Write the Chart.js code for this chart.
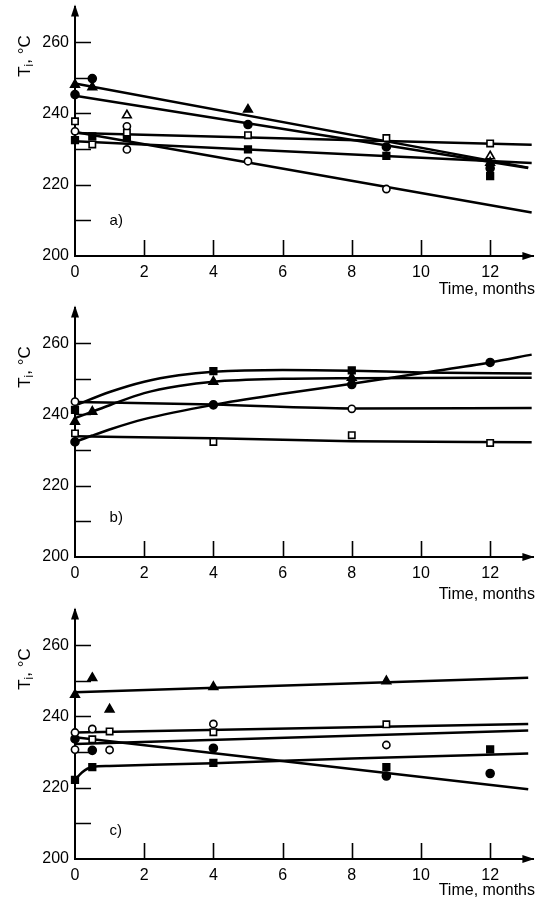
<!DOCTYPE html>
<html>
<head>
<meta charset="utf-8">
<script src="https://cdn.jsdelivr.net/npm/chart.js@4.4.0/dist/chart.umd.min.js"></script>
<style>
  html, body { margin: 0; padding: 0; background: #fff; }
  .panel { position: absolute; left: 0; width: 540px; height: 302px; }
</style>
</head>
<body>
<div class="panel" style="top:0"><canvas id="chartA"></canvas></div>
<div class="panel" style="top:301px"><canvas id="chartB"></canvas></div>
<div class="panel" style="top:603px"><canvas id="chartC"></canvas></div>
<script>
"use strict";

// axes
const monthTicks = [0, 2, 4, 6, 8, 10, 12];
const tempTicks = [200, 210, 220, 230, 240, 250, 260];
const tempLabels = [200, 220, 240, 260];

// ? PANEL a) measured points [month, Ti]
const aFilledCircle = [[0, 245.3], [0.5, 249.8], [5, 236.9], [9, 230.6], [12, 224.6]];
const aFilledTriangle = [[0, 248.1], [0.5, 247.4], [5, 241.1], [12, 226.2]];
const aOpenTriangle = [[1.5, 239.5], [12, 228.0]];
const aOpenSquare = [[0, 237.8], [0.5, 231.3], [1.5, 234.6], [5, 233.9], [9, 233.1], [12, 231.6]];
const aFilledSquare = [[0, 232.5], [0.5, 233.6], [1.5, 233.2], [5, 229.9], [9, 228.1], [12, 222.4]];
const aOpenCircle = [[0, 235.0], [1.5, 236.4], [1.5, 229.9], [5, 226.6], [9, 218.8]];
// a) fitted lines
const aFitFilledTriangle = [[0, 248.4], [13.1, 224.8]];
const aFitFilledCircle = [[0, 245.0], [13.1, 224.7]];
const aFitOpenSquare = [[0, 234.5], [13.2, 231.2]];
const aFitFilledSquare = [[0, 232.2], [13.2, 226.1]];
const aFitOpenCircle = [[0, 234.8], [13.2, 212.2]];

// ? PANEL b) measured points
const bFilledSquare = [[0, 241.3], [4, 252.2], [8, 252.4]];
const bFilledTriangle = [[0, 238.0], [0.5, 240.8], [4, 249.2], [8, 250.3]];
const bFilledCircle = [[0, 232.3], [4, 242.7], [8, 248.4], [12, 254.6]];
const bOpenCircle = [[0, 243.6], [8, 241.6]];
const bOpenSquare = [[0, 234.7], [4, 232.3], [8, 234.2], [12, 232.0]];
// b) fitted curves
const bFitFilledSquare = [[0, 242.5], [1, 246.3], [2, 249.2], [3, 251.0], [4, 252.0], [6, 252.5], [8, 252.3], [10, 251.8], [13.2, 251.5]];
const bFitFilledTriangle = [[0, 239.0], [0.5, 240.8], [1, 242.6], [2, 246.0], [3, 248.0], [4, 249.2], [6, 250.0], [8, 250.2], [13.2, 250.3]];
const bFitFilledCircle = [[0, 232.3], [0.5, 234.1], [1, 235.8], [2, 238.7], [4, 242.7], [6, 245.8], [8, 248.6], [10, 251.6], [12, 254.6], [13.2, 256.8]];
const bFitOpenCircle = [[0, 243.5], [4, 242.8], [8, 241.7], [13.2, 241.8]];
const bFitOpenSquare = [[0, 233.9], [4, 233.3], [8, 232.5], [13.2, 232.2]];

// ? PANEL c) measured points
const cFilledTriangle = [[0, 246.1], [0.5, 250.8], [1, 242.0], [4, 248.3], [9, 249.9]];
const cOpenCircle = [[0, 235.5], [0.5, 236.5], [4, 237.9], [0, 230.7], [1, 230.6], [9, 232.0]];
const cOpenSquare = [[0.5, 233.6], [1, 235.8], [4, 235.6], [9, 237.8]];
const cFilledCircle = [[0, 233.7], [0.5, 230.5], [4, 231.1], [9, 223.3], [12, 224.0]];
const cFilledSquare = [[0, 222.2], [0.5, 225.8], [4, 227.0], [9, 225.8], [12, 230.8]];
// c) fitted lines
const cFitFilledTriangle = [[0, 246.8], [13.1, 250.9]];
const cFitOpenCircle = [[0, 235.5], [13.1, 237.9]];
const cFitOpenSquare = [[0, 232.3], [13.1, 236.1]];
const cFitFilledCircle = [[0, 234.2], [13.1, 219.6]];
const cFitFilledSquare = [[0, 222.2], [0.2, 224.3], [0.5, 225.8], [1, 226.1], [4, 226.9], [8, 228.2], [13.1, 229.6]];

const ink = "#000";
const fontFamily = "'Liberation Sans', Arial, sans-serif";

// marker looks: filled / open, circle / triangle / square
const markerKinds = {
  filledCircle: { pointStyle: "circle", pointRadius: 4, fill: ink },
  openCircle: { pointStyle: "circle", pointRadius: 3.6, fill: "#fff" },
  filledTriangle: { pointStyle: "triangle", pointRadius: 5, fill: ink },
  openTriangle: { pointStyle: "triangle", pointRadius: 5, fill: "#fff" },
  filledSquare: { pointStyle: "rect", pointRadius: 4.7, fill: ink },
  openSquare: { pointStyle: "rect", pointRadius: 4.5, fill: "#fff" },
};

const toXY = (pts) => pts.map(([x, y]) => ({ x, y }));

function fitLine(pts, curved) {
  return {
    data: toXY(pts),
    showLine: true,
    borderColor: ink,
    borderWidth: 2.5,
    pointRadius: 0,
    tension: curved ? 0.4 : 0,
    cubicInterpolationMode: curved ? "monotone" : "default",
    order: 2,
    clip: false,
  };
}

function markers(pts, kind) {
  const k = markerKinds[kind];
  return {
    data: toXY(pts),
    showLine: false,
    pointStyle: k.pointStyle,
    pointRadius: k.pointRadius,
    pointBackgroundColor: k.fill,
    pointBorderColor: ink,
    pointBorderWidth: 1.6,
    order: 1,
    clip: false,
  };
}

// inward ticks, arrow heads, axis titles and the panel letter
const paperAxes = {
  id: "paperAxes",
  beforeDatasetsDraw(chart) {
    const { ctx, chartArea: area, scales } = chart;
    ctx.save();
    ctx.strokeStyle = ink;
    ctx.lineWidth = 1.6;
    ctx.beginPath();
    tempTicks.forEach((v) => {
      if (v === 200) return;
      const py = Math.round(scales.y.getPixelForValue(v)) + 0.5;
      ctx.moveTo(area.left, py);
      ctx.lineTo(area.left + 16, py);
    });
    monthTicks.forEach((v) => {
      if (v === 0) return;
      const px = Math.round(scales.x.getPixelForValue(v)) + 0.5;
      ctx.moveTo(px, area.bottom);
      ctx.lineTo(px, area.bottom - 16);
    });
    ctx.stroke();
    ctx.restore();
  },
  afterDraw(chart, args, opts) {
    const { ctx, chartArea: area, scales } = chart;
    ctx.save();
    ctx.fillStyle = ink;

    // arrow heads
    ctx.beginPath();
    ctx.moveTo(area.left, area.top - 2);
    ctx.lineTo(area.left - 4, area.top + 10);
    ctx.lineTo(area.left + 4, area.top + 10);
    ctx.closePath();
    ctx.fill();
    ctx.beginPath();
    ctx.moveTo(area.right + 1, area.bottom);
    ctx.lineTo(area.right - 11, area.bottom - 4);
    ctx.lineTo(area.right - 11, area.bottom + 4);
    ctx.closePath();
    ctx.fill();

    // x title
    ctx.font = `16px ${fontFamily}`;
    ctx.textAlign = "right";
    ctx.textBaseline = "middle";
    ctx.fillText("Time, months", 535, opts.timeY);

    // panel letter
    ctx.font = `15px ${fontFamily}`;
    ctx.textAlign = "left";
    ctx.fillText(opts.letter, scales.x.getPixelForValue(1.0), scales.y.getPixelForValue(opts.letterAt));

    // y title, rotated: T with subscript i, then ", °C"
    ctx.translate(25, opts.titleY);
    ctx.rotate(-Math.PI / 2);
    const big = `17px ${fontFamily}`;
    const small = `12px ${fontFamily}`;
    ctx.font = big;
    const wT = ctx.measureText("T").width;
    const wRest = ctx.measureText(", °C").width;
    ctx.font = small;
    const wI = ctx.measureText("i").width;
    let cx = -(wT + wI + wRest) / 2;
    ctx.textAlign = "left";
    ctx.font = big;
    ctx.fillText("T", cx, 0);
    cx += wT;
    ctx.font = small;
    ctx.fillText("i", cx, 5);
    cx += wI;
    ctx.font = big;
    ctx.fillText(", °C", cx, 0);
    ctx.restore();
  },
};

const tickFont = { family: fontFamily, size: 16 };

function makeChart(canvasId, datasets, panel) {
  const ctx = document.getElementById(canvasId).getContext("2d");
  return new Chart(ctx, {
    type: "scatter",
    data: { datasets },
    options: {
      responsive: true,
      maintainAspectRatio: false,
      animation: false,
      events: [],
      layout: { padding: { top: 4, right: 1, left: 0, bottom: 0 } },
      plugins: {
        legend: { display: false },
        tooltip: { enabled: false },
        paperAxes: panel,
      },
      scales: {
        x: {
          type: "linear",
          min: 0,
          max: 13.25,
          afterBuildTicks: (s) => {
            s.ticks = monthTicks.map((v) => ({ value: v }));
          },
          afterFit: (s) => {
            s.height = 46;
            s.paddingLeft = 0;
            s.paddingRight = 0;
          },
          grid: { display: false, drawTicks: false },
          border: { display: true, color: ink, width: 2 },
          ticks: { color: ink, font: tickFont, padding: 7, maxRotation: 0, autoSkip: false },
        },
        y: {
          type: "linear",
          min: 200,
          max: 270,
          afterBuildTicks: (s) => {
            s.ticks = tempTicks.map((v) => ({ value: v }));
          },
          afterFit: (s) => {
            s.width = 75;
            s.paddingTop = 0;
            s.paddingBottom = 0;
          },
          grid: { display: false, drawTicks: false },
          border: { display: true, color: ink, width: 2 },
          ticks: {
            color: ink,
            font: tickFont,
            padding: 6,
            autoSkip: false,
            callback: (v) => (tempLabels.includes(v) ? String(v) : ""),
          },
        },
      },
    },
    plugins: [paperAxes],
  });
}

// ! a)
makeChart(
  "chartA",
  [
    fitLine(aFitFilledTriangle),
    fitLine(aFitFilledCircle),
    fitLine(aFitOpenSquare),
    fitLine(aFitFilledSquare),
    fitLine(aFitOpenCircle),
    markers(aFilledCircle, "filledCircle"),
    markers(aFilledTriangle, "filledTriangle"),
    markers(aOpenTriangle, "openTriangle"),
    markers(aOpenSquare, "openSquare"),
    markers(aFilledSquare, "filledSquare"),
    markers(aOpenCircle, "openCircle"),
  ],
  { letter: "a)", letterAt: 210, titleY: 56, timeY: 290 }
);

// ! b)
makeChart(
  "chartB",
  [
    fitLine(bFitFilledSquare, true),
    fitLine(bFitFilledTriangle, true),
    fitLine(bFitFilledCircle, true),
    fitLine(bFitOpenCircle, true),
    fitLine(bFitOpenSquare, true),
    markers(bFilledSquare, "filledSquare"),
    markers(bFilledTriangle, "filledTriangle"),
    markers(bFilledCircle, "filledCircle"),
    markers(bOpenCircle, "openCircle"),
    markers(bOpenSquare, "openSquare"),
  ],
  { letter: "b)", letterAt: 211, titleY: 66, timeY: 294 }
);

// ! c)
makeChart(
  "chartC",
  [
    fitLine(cFitFilledTriangle),
    fitLine(cFitOpenCircle),
    fitLine(cFitOpenSquare),
    fitLine(cFitFilledCircle),
    fitLine(cFitFilledSquare, true),
    markers(cFilledTriangle, "filledTriangle"),
    markers(cOpenCircle, "openCircle"),
    markers(cOpenSquare, "openSquare"),
    markers(cFilledCircle, "filledCircle"),
    markers(cFilledSquare, "filledSquare"),
  ],
  { letter: "c)", letterAt: 208, titleY: 66, timeY: 288 }
);
</script>
</body>
</html>
